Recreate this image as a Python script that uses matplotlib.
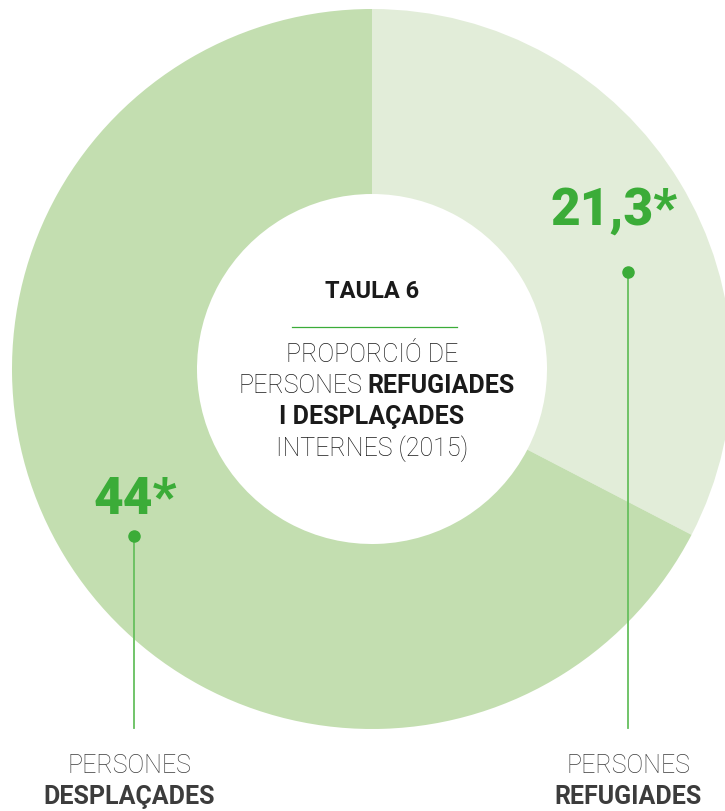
import matplotlib.pyplot as plt

labels = ['REFUGIADES', 'DESPLAÇADES']
values = [21.3, 44]
value_labels = ['21,3*', '44*']
colors = ['#e2edd9', '#c3deb0']
green = '#3bac38'
line_green = '#66bf5e'

H = 811
plt.rcParams['font.family'] = ['Roboto', 'DejaVu Sans']

fig = plt.figure(figsize=(7.25, 8.11), dpi=100)
ax = fig.add_axes([0, 0, 1, 1])

ax.pie(values, colors=colors, startangle=90, counterclock=False,
       center=(372, H - 369), radius=360,
       wedgeprops=dict(width=185, linewidth=0))
ax.set_xlim(0, 725)
ax.set_ylim(0, H)
ax.set_aspect('equal')
ax.axis('off')

# leader lines
for x, ytop in [(628, 272), (134, 536)]:
    ax.plot([x, x], [H - ytop, H - 728], color=line_green, lw=1.3)
    ax.plot(x, H - ytop, 'o', color=green, ms=8)

ax.text(614, H - 211, value_labels[0], color=green, fontsize=37, fontweight='black',
        ha='center', va='center')
ax.text(135, H - 500, value_labels[1], color=green, fontsize=37, fontweight='black',
        ha='center', va='center')

# center text
dark = '#1a1a1a'
ax.text(372, H - 291, 'TAULA 6', fontsize=17, fontweight='bold', color=dark,
        ha='center', va='center')
ax.plot([292, 457], [H - 327, H - 327], color=green, lw=0.9)
ax.text(372, H - 355, 'PROPORCIÓ DE', fontsize=18, fontweight='light', color=dark,
        ha='center', va='center')
ax.text(362, H - 386, 'PERSONES', fontsize=18, fontweight='light', color=dark,
        ha='right', va='center')
ax.text(367, H - 386, 'REFUGIADES', fontsize=18, fontweight='bold', color=dark,
        ha='left', va='center')
ax.text(372, H - 417, 'I DESPLAÇADES', fontsize=18, fontweight='bold', color=dark,
        ha='center', va='center')
ax.text(372, H - 449, 'INTERNES (2015)', fontsize=18, fontweight='light', color=dark,
        ha='center', va='center')

# bottom labels
gray = '#3c3c3c'
for x, lab in [(129, labels[1]), (628, labels[0])]:
    ax.text(x, H - 766, 'PERSONES', fontsize=18, fontweight='light', color=gray,
            ha='center', va='center')
    ax.text(x, H - 797, lab, fontsize=18, fontweight='bold', color=gray,
            ha='center', va='center')

fig.savefig('out.png', dpi=100)
